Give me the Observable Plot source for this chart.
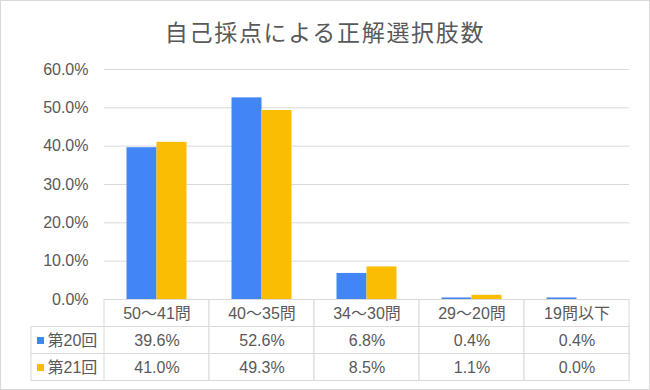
<!DOCTYPE html>
<html>
<head>
<meta charset="utf-8">
<script src="https://cdn.jsdelivr.net/npm/d3@7"></script>
<script src="https://cdn.jsdelivr.net/npm/@observablehq/plot@0.6"></script>
<style>
  html, body { margin: 0; padding: 0; background: #fff; }
  #wrap { position: relative; width: 650px; height: 390px; overflow: hidden; background: #fff;
          font-family: "Liberation Sans", "Noto Sans CJK JP", sans-serif; color: #595959; }
  #border { position: absolute; left: 0; top: 0; width: 648px; height: 388px; border: 1px solid #d9d9d9; pointer-events: none; }
  #title { position: absolute; left: 0; top: 0; width: 650px; height: 62px; line-height: 62px; text-align: center;
           font-family: "Noto Sans CJK JP", sans-serif; font-size: 23px; letter-spacing: 1.7px; color: #595959; }
  #chart { position: absolute; left: 0; top: 52px; }
  #table { position: absolute; left: 0; top: 299px; }
</style>
</head>
<body>
<div id="wrap">
  <div id="title">自己採点による正解選択肢数</div>
  <div id="chart"></div>
  <div id="table"></div>
  <div id="border"></div>
</div>
<script>
const categories = ["50～41問", "40～35問", "34～30問", "29～20問", "19問以下"];
const series = ["第20回", "第21回"];
const values20 = [39.6, 52.6, 6.8, 0.4, 0.4];
const values21 = [41.0, 49.3, 8.5, 1.1, 0.0];
const yTicks = [0, 10, 20, 30, 40, 50, 60];
const colors = ["#4285F4", "#FBBC04"];

const fontFamily = '"Liberation Sans", "Noto Sans CJK JP", sans-serif';
const fmt = v => v.toFixed(1) + "%";

const bars = categories.flatMap((c, i) => [
  {cat: c, series: series[0], value: values20[i]},
  {cat: c, series: series[1], value: values21[i]}
]);

const chart = Plot.plot({
  width: 650, height: 247,
  marginTop: 17, marginBottom: 0, marginLeft: 104, marginRight: 21,
  style: {background: "transparent", overflow: "visible", fontSize: "16px", fontFamily, color: "#595959"},
  fx: {domain: categories, padding: 0, axis: null, round: false},
  x: {domain: series, paddingInner: 0, paddingOuter: 0.75, axis: null, round: false},
  y: {domain: [0, 60], ticks: yTicks, tickFormat: fmt, tickSize: 0, tickPadding: 16, label: null},
  color: {domain: series, range: colors},
  marks: [
    Plot.ruleY(yTicks.filter(t => t > 0), {stroke: "#d9d9d9", strokeWidth: 1}),
    Plot.barY(bars, {fx: "cat", x: "series", y: "value", fill: "series"})
  ]
});
document.getElementById("chart").appendChild(chart);

const rowsT = series.map((s, k) => ({label: s, i: k + 1}));
const cells = categories.flatMap((c, j) => [
  {cat: c, i: 0, text: c},
  {cat: c, i: 1, text: fmt(values20[j])},
  {cat: c, i: 2, text: fmt(values21[j])}
]);

const table = Plot.plot({
  width: 650, height: 82,
  marginTop: 0.5, marginBottom: 0.5, marginLeft: 104, marginRight: 21,
  style: {background: "transparent", overflow: "visible", fontSize: "16px", fontFamily, color: "#595959"},
  x: {domain: categories, padding: 0, axis: null, round: false},
  y: {domain: [0, 3], reverse: true, axis: null},
  color: {domain: series, range: colors},
  marks: [
    Plot.rect(rowsT, {y1: "i", y2: d => d.i + 1, insetLeft: -73, fill: "white", stroke: "#d9d9d9"}),
    Plot.barY(cells, {x: "cat", y1: "i", y2: d => d.i + 1, fill: "white", stroke: "#d9d9d9", inset: 0}),
    Plot.text(cells, {x: "cat", y: d => d.i + 0.5, text: "text", fill: "#595959"}),
    Plot.dot(rowsT, {y: d => d.i + 0.5, frameAnchor: "left", dx: -64, symbol: "square", r: 4, fill: "label", stroke: null}),
    Plot.text(rowsT, {y: d => d.i + 0.5, frameAnchor: "left", dx: -57, textAnchor: "start", text: "label", fill: "#595959"})
  ]
});
document.getElementById("table").appendChild(table);
</script>
</body>
</html>
